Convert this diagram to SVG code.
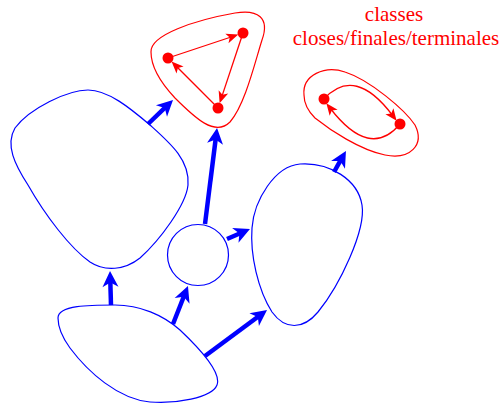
<svg xmlns="http://www.w3.org/2000/svg" width="503" height="404" viewBox="0 0 503 404">
<style>
.blue{fill:none;stroke:#0000ff;stroke-width:1.2}
.red{fill:none;stroke:#ff0000;stroke-width:1.2}
.barrow{stroke:#0000ff;stroke-width:4.5;fill:none;marker-end:url(#bh)}
.rarrow{stroke:#ff0000;stroke-width:1.3;fill:none;marker-end:url(#rh)}
.dot{fill:#ff0000}
.lbl{font-family:"Liberation Serif","Times New Roman",serif;font-size:21px;fill:#ff0000;text-anchor:middle}
</style>
<defs>
<marker id="bh" markerUnits="userSpaceOnUse" viewBox="-7 -9 18 18" refX="0" refY="0" markerWidth="18" markerHeight="18" orient="auto">
<path d="M10,0 L-6,-8 L-1.5,0 L-6,8 Z" fill="#0000ff"/>
</marker>
<marker id="rh" markerUnits="userSpaceOnUse" viewBox="-7 -6 15 12" refX="0" refY="0" markerWidth="15" markerHeight="12" orient="auto">
<path d="M6,0 L-6,-5 L-3,0 L-6,5 Z" fill="#ff0000"/>
</marker>
</defs>
<g id="nodeA"><path class="blue" d="M88,90 C108,90 130,108 150,125 C170,143 190,160 188,185 C186,205 160,240 140,258 C125,270 105,272 90,262 C70,248 45,215 28,185 C15,165 5,145 15,128 C30,108 68,90 88,90 Z"/></g>
<g id="nodeC"><circle class="blue" cx="198" cy="255" r="30.5"/></g>
<g id="nodeD"><path class="blue" d="M300,164 C330,162 358,180 362,205 C366,230 340,285 318,312 C303,330 285,330 272,312 C258,290 250,255 252,228 C254,200 275,166 300,164 Z"/></g>
<g id="nodeE"><path class="blue" d="M58,318 C58,305 90,305 115,305 C140,305 163,315 180,330 C198,347 222,372 217,385 C212,398 175,404 150,402 C118,399 88,372 70,348 C62,337 58,327 58,318 Z"/></g>
<g id="nodeT"><path class="red" d="M151,52 C150,35 195,20 235,13 C258,9 270,18 262,40 C255,62 245,105 230,122 C215,137 195,118 175,98 C160,82 151,67 151,52 Z"/>
<line class="rarrow" x1="168" y1="58" x2="232.6" y2="36.5"/>
<line class="rarrow" x1="243" y1="33" x2="221.5" y2="97.6"/>
<line class="rarrow" x1="218" y1="108" x2="175.8" y2="65.8"/>
<circle class="dot" cx="168" cy="58" r="5.5"/>
<circle class="dot" cx="243" cy="33" r="5.5"/>
<circle class="dot" cx="218" cy="108" r="5.5"/>
</g>
<g id="nodeL"><path class="red" d="M304,95 C302,75 325,65 345,72 C370,80 405,110 415,125 C425,145 410,160 385,155 C360,150 330,130 315,118 C307,110 304,103 304,95 Z"/>
<path class="rarrow" d="M324,99 Q355,65 393,116"/>
<path class="rarrow" d="M400,124 Q370,160 330,108"/>
<circle class="dot" cx="324" cy="99" r="5.5"/>
<circle class="dot" cx="400" cy="124" r="5.5"/>
</g>
<g id="label">
<text class="lbl" x="394" y="21">classes</text>
<text class="lbl" x="396" y="45">closes/finales/terminales</text>
</g>
<g id="connectors">
<line class="barrow" x1="111" y1="305" x2="110.3" y2="281"/>
<line class="barrow" x1="173" y1="324" x2="184.3" y2="295.3"/>
<line class="barrow" x1="205" y1="356" x2="259" y2="316"/>
<line class="barrow" x1="148" y1="124" x2="165.8" y2="106.9"/>
<line class="barrow" x1="205" y1="224" x2="215.8" y2="137.9"/>
<line class="barrow" x1="227" y1="239" x2="240.8" y2="233"/>
<line class="barrow" x1="334" y1="172" x2="341" y2="159.7"/>
</g>
</svg>
